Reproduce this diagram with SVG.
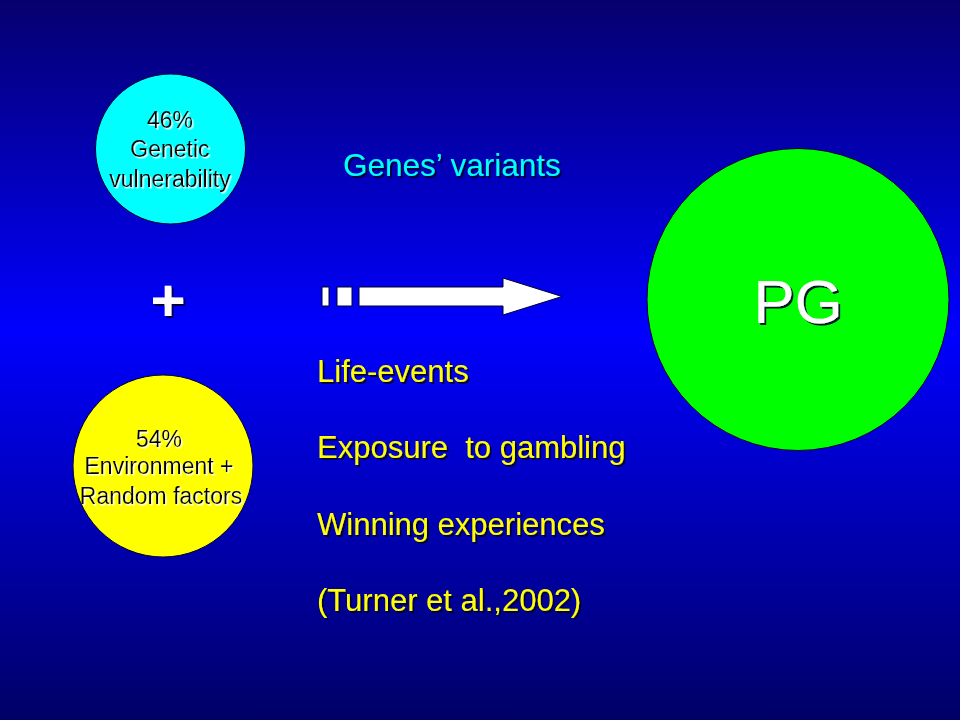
<svg xmlns="http://www.w3.org/2000/svg" width="960" height="720" viewBox="0 0 960 720">
  <defs>
    <linearGradient id="bg" x1="0" y1="0" x2="0" y2="1">
      <stop offset="0" stop-color="#06006e"/>
      <stop offset="0.46" stop-color="#0000ff"/>
      <stop offset="1" stop-color="#000066"/>
    </linearGradient>
    <filter id="shDark" x="-10%" y="-10%" width="120%" height="130%">
      <feDropShadow dx="2" dy="2" stdDeviation="0.6" flood-color="#000033" flood-opacity="0.9"/>
    </filter>
    <filter id="shLight" x="-10%" y="-10%" width="120%" height="130%">
      <feDropShadow dx="1.5" dy="1.5" stdDeviation="0.4" flood-color="#ffffff" flood-opacity="0.95"/>
    </filter>
  </defs>
  <style>
    text { font-family: "Liberation Sans", Arial, sans-serif; }
    .circ { stroke: #000033; stroke-width: 1; }
    .inner { font-size: 23px; fill: #000000; text-anchor: middle; filter: url(#shLight); }
    .list { font-size: 31px; fill: #ffff00; filter: url(#shDark); }
    .arrow { fill: #ffffff; stroke: #000033; stroke-width: 1; }
  </style>
  <rect x="0" y="0" width="960" height="720" fill="url(#bg)"/>

  <g id="genetic">
    <circle class="circ" cx="170.5" cy="149" r="75" fill="#00ffff"/>
    <text class="inner" x="170" y="128" font-size="22.5">46%</text>
    <text class="inner" x="170" y="157" font-size="22.5">Genetic</text>
    <text class="inner" x="170" y="187" font-size="22.5">vulnerability</text>
  </g>

  <g id="environment">
    <ellipse class="circ" cx="163" cy="466" rx="90" ry="91" fill="#ffff00"/>
    <text class="inner" x="159" y="447">54%</text>
    <text class="inner" x="159" y="474">Environment +</text>
    <text class="inner" x="161" y="504">Random factors</text>
  </g>

  <g id="plus">
    <text x="168" y="321" font-size="60" font-weight="bold" fill="#ffffff" text-anchor="middle" filter="url(#shDark)">+</text>
  </g>

  <g id="pg">
    <circle class="circ" cx="798" cy="299.5" r="151" fill="#00ff00"/>
    <text x="798" y="323" font-size="62" fill="#ffffff" text-anchor="middle" filter="url(#shDark)">PG</text>
  </g>

  <g id="genes">
    <text x="343" y="176" font-size="31.5" fill="#00ffff" filter="url(#shDark)">Genes’ variants</text>
  </g>

  <g id="connectors">
    <rect class="arrow" x="322" y="287" width="7" height="19"/>
    <rect class="arrow" x="337" y="287" width="15" height="19"/>
    <polygon class="arrow" points="359,287 503,287 503,278 562,296.5 503,315 503,306 359,306"/>
  </g>

  <g id="factors">
    <text class="list" x="317" y="382">Life-events</text>
    <text class="list" x="317" y="458" xml:space="preserve">Exposure  to gambling</text>
    <text class="list" x="317" y="535">Winning experiences</text>
    <text class="list" x="317" y="611">(Turner et al.,2002)</text>
  </g>
</svg>
